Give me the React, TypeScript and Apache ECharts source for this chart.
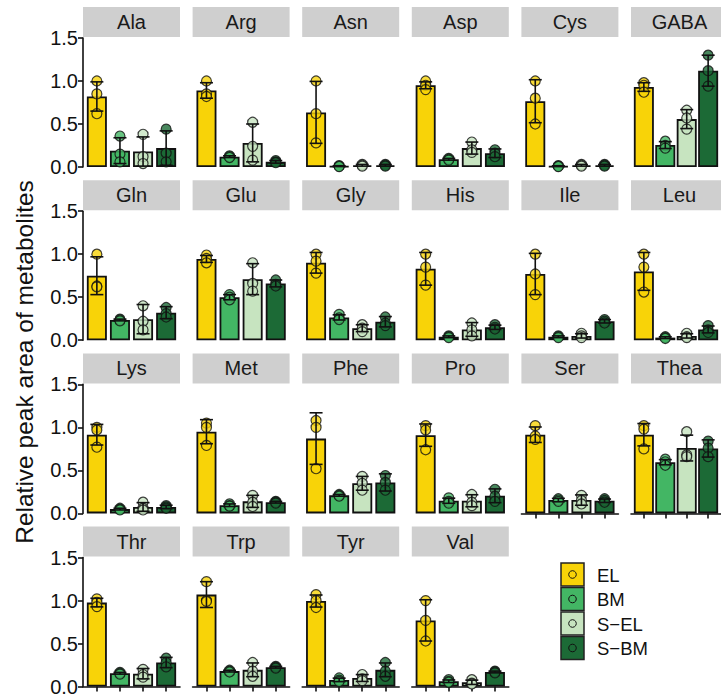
import React, { useEffect, useRef } from "react";
import * as echarts from "echarts";

const metabolites = [
  "Ala", "Arg", "Asn", "Asp", "Cys", "GABA",
  "Gln", "Glu", "Gly", "His", "Ile", "Leu",
  "Lys", "Met", "Phe", "Pro", "Ser", "Thea",
  "Thr", "Trp", "Tyr", "Val",
];
const groups = ["EL", "BM", "S\u2212EL", "S\u2212BM"];
const groupColors = ["#F8D308", "#43B664", "#C7E4C0", "#1C6A36"];
const yTicks = [0, 0.5, 1.0, 1.5];

// bar heights (mean)
const meanEL = [0.82, 0.89, 0.635, 0.95, 0.765, 0.93, 0.75, 0.945, 0.9, 0.83, 0.77, 0.8, 0.915, 0.95, 0.87, 0.91, 0.915, 0.915, 0.977, 1.07, 0.995, 0.77];
const meanBM = [0.19, 0.12, 0.01, 0.09, 0.01, 0.255, 0.235, 0.5, 0.265, 0.04, 0.04, 0.03, 0.05, 0.095, 0.21, 0.147, 0.155, 0.595, 0.155, 0.18, 0.078, 0.062];
const meanSEL = [0.18, 0.28, 0.02, 0.22, 0.02, 0.557, 0.245, 0.71, 0.14, 0.125, 0.05, 0.05, 0.075, 0.14, 0.35, 0.147, 0.155, 0.76, 0.15, 0.195, 0.1, 0.05];
const meanSBM = [0.22, 0.06, 0.02, 0.16, 0.02, 1.12, 0.32, 0.66, 0.215, 0.15, 0.22, 0.125, 0.075, 0.13, 0.36, 0.205, 0.147, 0.755, 0.28, 0.225, 0.195, 0.17];

// error bar half-lengths (SD)
const sdEL = [0.17, 0.09, 0.36, 0.04, 0.25, 0.05, 0.22, 0.04, 0.12, 0.19, 0.24, 0.22, 0.12, 0.14, 0.3, 0.13, 0.09, 0.13, 0.05, 0.15, 0.07, 0.24];
const sdBM = [0.15, 0.01, 0.005, 0.01, 0.005, 0.04, 0.01, 0.03, 0.03, 0.01, 0.01, 0.01, 0.01, 0.015, 0.01, 0.03, 0.02, 0.03, 0.01, 0.01, 0.02, 0.015];
const sdSEL = [0.17, 0.22, 0.01, 0.07, 0.01, 0.11, 0.17, 0.18, 0.04, 0.08, 0.025, 0.025, 0.05, 0.07, 0.08, 0.07, 0.06, 0.15, 0.06, 0.08, 0.04, 0.025];
const sdSBM = [0.2, 0.015, 0.01, 0.05, 0.01, 0.18, 0.07, 0.04, 0.06, 0.025, 0.02, 0.04, 0.02, 0.01, 0.1, 0.08, 0.02, 0.1, 0.06, 0.01, 0.08, 0.01];

// individual replicate points
const ptsEL = [
  [1.0, 0.85, 0.62], [1.0, 0.85, 0.82], [1.0, 0.62, 0.28], [1.0, 0.95, 0.9], [1.0, 0.8, 0.5], [0.98, 0.95, 0.87],
  [1.0, 0.63, 0.62], [0.99, 0.95, 0.9], [1.0, 0.92, 0.78], [1.0, 0.85, 0.64], [1.0, 0.77, 0.53], [1.0, 0.85, 0.56],
  [1.0, 0.97, 0.77], [1.05, 1.0, 0.79], [1.08, 1.0, 0.52], [1.02, 0.97, 0.74], [1.02, 0.9, 0.86], [1.02, 0.98, 0.75],
  [1.02, 0.98, 0.93], [1.22, 1.0, 0.99], [1.07, 1.0, 0.92], [1.0, 0.77, 0.53],
];
const ptsBM = [
  [0.36, 0.15, 0.06], [0.13, 0.12, 0.11], [0.015, 0.01, 0.005], [0.1, 0.09, 0.08], [0.015, 0.01, 0.005], [0.3, 0.25, 0.22],
  [0.245, 0.235, 0.225], [0.53, 0.5, 0.47], [0.3, 0.26, 0.24], [0.05, 0.04, 0.03], [0.05, 0.04, 0.03], [0.04, 0.03, 0.02],
  [0.06, 0.05, 0.04], [0.11, 0.09, 0.085], [0.22, 0.21, 0.2], [0.18, 0.14, 0.12], [0.17, 0.155, 0.14], [0.63, 0.6, 0.56],
  [0.165, 0.155, 0.145], [0.19, 0.18, 0.17], [0.1, 0.075, 0.06], [0.08, 0.06, 0.05],
];
const ptsSEL = [
  [0.38, 0.12, 0.04], [0.52, 0.24, 0.08], [0.03, 0.02, 0.01], [0.29, 0.2, 0.17], [0.03, 0.02, 0.01], [0.66, 0.57, 0.44],
  [0.4, 0.22, 0.12], [0.9, 0.66, 0.57], [0.18, 0.14, 0.1], [0.2, 0.12, 0.05], [0.08, 0.05, 0.03], [0.08, 0.04, 0.03],
  [0.13, 0.06, 0.04], [0.21, 0.13, 0.08], [0.43, 0.35, 0.27], [0.22, 0.13, 0.09], [0.21, 0.15, 0.11], [0.95, 0.68, 0.66],
  [0.2, 0.14, 0.11], [0.28, 0.18, 0.12], [0.14, 0.09, 0.07], [0.08, 0.04, 0.03],
];
const ptsSBM = [
  [0.44, 0.16, 0.06], [0.075, 0.06, 0.05], [0.03, 0.02, 0.01], [0.2, 0.16, 0.12], [0.03, 0.02, 0.01], [1.3, 1.12, 0.94],
  [0.38, 0.31, 0.27], [0.7, 0.65, 0.63], [0.27, 0.2, 0.17], [0.18, 0.15, 0.13], [0.24, 0.22, 0.2], [0.17, 0.12, 0.09],
  [0.09, 0.075, 0.06], [0.14, 0.13, 0.12], [0.44, 0.36, 0.27], [0.28, 0.2, 0.14], [0.17, 0.15, 0.13], [0.84, 0.76, 0.66],
  [0.33, 0.28, 0.23], [0.235, 0.225, 0.215], [0.28, 0.18, 0.12], [0.18, 0.17, 0.16],
];

const means = [meanEL, meanBM, meanSEL, meanSBM];
const sds = [sdEL, sdBM, sdSEL, sdSBM];
const pts = [ptsEL, ptsBM, ptsSEL, ptsSBM];

const FONT = "Liberation Sans, Arial, Helvetica, sans-serif";
const NCOL = 6;
const PW = 97;
const PH = 129;
const STRIP_H = 31;
const colX = (c: number) => 83 + c * 109.6;
const rowTop = (r: number) => 38 + r * 173.2;

function buildOption() {
  const grid: any[] = [];
  const xAxis: any[] = [];
  const yAxis: any[] = [];
  const series: any[] = [];
  const graphic: any[] = [];
  const n = metabolites.length;

  metabolites.forEach((name, i) => {
    const r = Math.floor(i / NCOL);
    const c = i % NCOL;
    const left = colX(c);
    const top = rowTop(r);
    const hasBelow = i + NCOL < n;
    grid.push({ left, top, width: PW, height: PH, containLabel: false });
    xAxis.push({
      gridIndex: i,
      type: "value",
      min: 0.4,
      max: 4.6,
      show: !hasBelow,
      splitLine: { show: false },
      axisLine: { show: !hasBelow, lineStyle: { color: "#111", width: 1.6 } },
      axisTick: {
        show: !hasBelow,
        customValues: [1, 2, 3, 4],
        length: 5,
        inside: false,
        lineStyle: { color: "#111", width: 1.6 },
      },
      axisLabel: { show: false },
    });
    yAxis.push({
      gridIndex: i,
      type: "value",
      min: 0,
      max: 1.5,
      interval: 0.5,
      show: c === 0,
      splitLine: { show: false },
      axisLine: { show: c === 0, lineStyle: { color: "#111", width: 1.6 } },
      axisTick: { show: c === 0, length: 5, lineStyle: { color: "#111", width: 1.6 } },
      axisLabel: {
        show: c === 0,
        fontSize: 20,
        color: "#111",
        fontFamily: FONT,
        margin: 5,
        customValues: yTicks,
        formatter: (v: number) => v.toFixed(1),
      },
    });

    // strip
    graphic.push({
      type: "rect",
      shape: { x: left, y: top - STRIP_H, width: PW, height: STRIP_H - 1 },
      style: { fill: "#CFCFCF" },
      silent: true,
    });
    graphic.push({
      type: "text",
      x: left + PW / 2,
      y: top - STRIP_H / 2 - 0.5,
      style: {
        text: name,
        fontSize: 20,
        fontFamily: FONT,
        fill: "#1a1a1a",
        align: "center",
        verticalAlign: "middle",
      },
      silent: true,
    });

    series.push({
      type: "bar",
      xAxisIndex: i,
      yAxisIndex: i,
      barWidth: 20,
      itemStyle: { borderColor: "#111", borderWidth: 1.8 },
      data: groups.map((g, k) => ({
        value: [k + 1, means[k][i]],
        itemStyle: { color: groupColors[k] },
      })),
      z: 1,
    });

    const sc: any[] = [];
    groups.forEach((g, k) => {
      pts[k][i].forEach((v) => {
        sc.push({ value: [k + 1, v], itemStyle: { color: groupColors[k] } });
      });
    });
    series.push({
      type: "scatter",
      xAxisIndex: i,
      yAxisIndex: i,
      symbol: "circle",
      symbolSize: 10,
      itemStyle: { borderColor: "#111", borderWidth: 1.2 },
      data: sc,
      z: 2,
    });

    series.push({
      type: "custom",
      xAxisIndex: i,
      yAxisIndex: i,
      encode: { x: 0, y: [1, 2] },
      data: groups.map((g, k) => [k + 1, means[k][i] - sds[k][i], means[k][i] + sds[k][i]]),
      renderItem: (params: any, api: any) => {
        const x = api.value(0);
        const hi = api.coord([x, api.value(2)]);
        const lo = api.coord([x, api.value(1)]);
        const st = { stroke: "#111", lineWidth: 1.6 };
        const hw = 6.5;
        return {
          type: "group",
          children: [
            { type: "line", shape: { x1: hi[0], y1: hi[1], x2: lo[0], y2: lo[1] }, style: st },
            { type: "line", shape: { x1: hi[0] - hw, y1: hi[1], x2: hi[0] + hw, y2: hi[1] }, style: st },
            { type: "line", shape: { x1: lo[0] - hw, y1: lo[1], x2: lo[0] + hw, y2: lo[1] }, style: st },
          ],
        };
      },
      z: 3,
    });
  });

  // y-axis title
  graphic.push({
    type: "text",
    x: 24,
    y: 362,
    rotation: Math.PI / 2,
    style: {
      text: "Relative peak area of metabolites",
      fontSize: 24.5,
      fontFamily: FONT,
      fill: "#111",
      align: "center",
      verticalAlign: "middle",
    },
    silent: true,
  });

  // legend
  groups.forEach((g, k) => {
    const ky = 563 + k * 24.5;
    graphic.push({
      type: "rect",
      shape: { x: 561, y: ky, width: 23, height: 23 },
      style: { fill: groupColors[k], stroke: "#222", lineWidth: 1.5 },
      silent: true,
    });
    graphic.push({
      type: "circle",
      shape: { cx: 572.5, cy: ky + 11.5, r: 3.8 },
      style: { fill: groupColors[k], stroke: "#111", lineWidth: 1 },
      silent: true,
    });
    graphic.push({
      type: "text",
      x: 597,
      y: ky + 12,
      style: {
        text: g,
        fontSize: 18.5,
        fontFamily: FONT,
        fill: "#111",
        align: "left",
        verticalAlign: "middle",
      },
      silent: true,
    });
  });

  return {
    animation: false,
    backgroundColor: "#ffffff",
    grid,
    xAxis,
    yAxis,
    series,
    graphic,
  };
}

export default function App() {
  const ref = useRef<HTMLDivElement>(null);
  useEffect(() => {
    if (!ref.current) return;
    const chart = echarts.init(ref.current, undefined, { renderer: "svg" });
    chart.setOption(buildOption() as any);
    return () => chart.dispose();
  }, []);
  return (
    <div
      ref={ref}
      style={{ position: "absolute", left: 0, top: 0, width: 721, height: 697, background: "#fff" }}
    />
  );
}
